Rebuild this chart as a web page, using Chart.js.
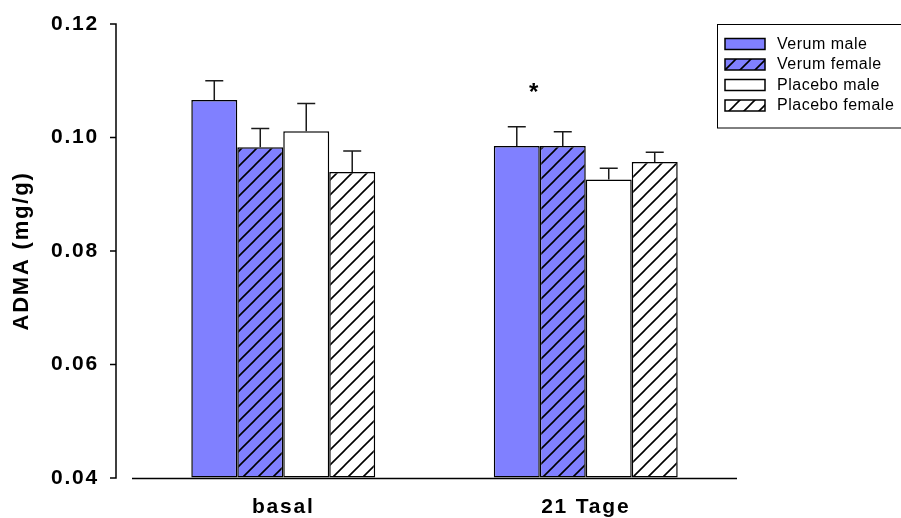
<!DOCTYPE html>
<html>
<head>
<meta charset="utf-8">
<script src="https://cdn.jsdelivr.net/npm/chart.js@4/dist/chart.umd.min.js"></script>
<style>
  html, body { margin: 0; padding: 0; background: #fff; }
  #wrap { position: relative; width: 901px; height: 518px; }
</style>
</head>
<body>
<div id="wrap"><canvas id="c"></canvas></div>
<script>
// ADMA concentration by group and time point (mean, upper SEM)
const categories = ['basal', '21 Tage'];
const seriesNames = ['Verum male', 'Verum female', 'Placebo male', 'Placebo female'];
const verumMale = [0.1066, 0.0985];
const verumFemale = [0.0983, 0.0985];
const placeboMale = [0.1011, 0.0926];
const placeboFemale = [0.0939, 0.0957];
const verumMaleErr = [0.0034, 0.0034];
const verumFemaleErr = [0.0033, 0.0025];
const placeboMaleErr = [0.0049, 0.0020];
const placeboFemaleErr = [0.0037, 0.0017];
const verumMaleMarks = ['', '*'];
const yTicks = [0.04, 0.06, 0.08, 0.10, 0.12];

const FONT = '"Liberation Sans", Arial, Helvetica, sans-serif';
const BLUE = 'rgb(128,128,255)';

function hatch(bg) {
  const s = 15;
  const cv = document.createElement('canvas');
  cv.width = s; cv.height = s;
  const g = cv.getContext('2d');
  g.fillStyle = bg;
  g.fillRect(0, 0, s, s);
  g.strokeStyle = '#000';
  g.lineWidth = 1.6;
  g.beginPath();
  g.moveTo(-2, s + 2); g.lineTo(s + 2, -2);
  g.moveTo(-2, 2); g.lineTo(2, -2);
  g.moveTo(s - 2, s + 2); g.lineTo(s + 2, s - 2);
  g.stroke();
  return g.createPattern(cv, 'repeat');
}

const fills = [BLUE, hatch(BLUE), '#ffffff', hatch('#ffffff')];
const values = [verumMale, verumFemale, placeboMale, placeboFemale];
const errors = [verumMaleErr, verumFemaleErr, placeboMaleErr, placeboFemaleErr];

const datasets = seriesNames.map((name, i) => ({
  label: name,
  data: values[i],
  errUp: errors[i],
  backgroundColor: fills[i],
  borderColor: '#000',
  borderWidth: 1.5,
  borderSkipped: false,
  base: 0.04,
  categoryPercentage: 0.608,
  barPercentage: 1.0
}));

const decor = {
  id: 'decor',
  beforeDraw(chart) {
    // slightly wider text spacing for the axis labels
    chart.ctx.letterSpacing = '1.8px';
  },
  afterDatasetsDraw(chart) {
    const ctx = chart.ctx;
    const y = chart.scales.y;
    ctx.save();
    // upper error bars
    ctx.strokeStyle = '#1a1a1a';
    ctx.lineWidth = 1.5;
    chart.data.datasets.forEach((ds, di) => {
      const meta = chart.getDatasetMeta(di);
      meta.data.forEach((bar, j) => {
        const top = y.getPixelForValue(ds.data[j]);
        const cap = y.getPixelForValue(ds.data[j] + ds.errUp[j]);
        ctx.beginPath();
        ctx.moveTo(bar.x, top);
        ctx.lineTo(bar.x, cap);
        ctx.moveTo(bar.x - 9, cap);
        ctx.lineTo(bar.x + 9, cap);
        ctx.stroke();
      });
    });
    // significance marks above the Verum male bars
    const vm = chart.getDatasetMeta(0);
    ctx.fillStyle = '#000';
    ctx.letterSpacing = '0px';
    ctx.font = 'bold 24px ' + FONT;
    ctx.textAlign = 'center';
    ctx.textBaseline = 'alphabetic';
    verumMaleMarks.forEach((m, j) => {
      if (!m) return;
      const cap = y.getPixelForValue(verumMale[j] + verumMaleErr[j]);
      ctx.fillText(m, vm.data[j].x + 17, cap - 27);
    });
    ctx.restore();
  },
  afterDraw(chart) {
    const ctx = chart.ctx;
    const y = chart.scales.y;
    const x = chart.scales.x;
    const area = chart.chartArea;
    ctx.save();
    ctx.strokeStyle = '#000';
    ctx.lineWidth = 1.5;
    // y axis, offset to the left of the plotting area
    const ax = area.left - 16;
    ctx.beginPath();
    ctx.moveTo(ax, y.getPixelForValue(0.12));
    ctx.lineTo(ax, y.getPixelForValue(0.04));
    yTicks.forEach(v => {
      const py = y.getPixelForValue(v);
      ctx.moveTo(ax - 6, py);
      ctx.lineTo(ax + 0.75, py);
    });
    ctx.stroke();
    // x axis
    ctx.beginPath();
    ctx.moveTo(x.left, area.bottom + 0.5);
    ctx.lineTo(x.right, area.bottom + 0.5);
    ctx.stroke();

    // legend box
    const lx = 717.5, ly = 24.5;
    ctx.lineWidth = 1;
    ctx.strokeRect(lx, ly, 200, 103.5);
    ctx.letterSpacing = '0.5px';
    ctx.font = '16px ' + FONT;
    ctx.textAlign = 'left';
    ctx.textBaseline = 'middle';
    chart.data.datasets.forEach((ds, i) => {
      const ry = 38.5 + i * 20.5;
      ctx.fillStyle = ds.backgroundColor;
      ctx.fillRect(725, ry, 40, 11);
      ctx.lineWidth = 1.5;
      ctx.strokeRect(725, ry, 40, 11);
      ctx.fillStyle = '#000';
      ctx.fillText(ds.label, 777, ry + 6);
    });
    ctx.restore();
  }
};

new Chart(document.getElementById('c'), {
  type: 'bar',
  data: { labels: categories, datasets },
  options: {
    responsive: true,
    maintainAspectRatio: false,
    animation: false,
    devicePixelRatio: 1,
    layout: { padding: { left: 0, right: 164, top: 24, bottom: 0 } },
    plugins: { legend: { display: false }, tooltip: { enabled: false } },
    scales: {
      x: {
        grid: { display: false, drawTicks: false },
        border: { display: false },
        ticks: { color: '#000', font: { family: FONT, size: 21, weight: 'bold' }, padding: 17 },
        afterFit(s) { s.height = 40; s.paddingLeft = 0; s.paddingRight = 0; }
      },
      y: {
        min: 0.04,
        max: 0.12,
        grid: { display: true, drawOnChartArea: false, drawTicks: false },
        border: { display: false },
        afterBuildTicks(s) { s.ticks = yTicks.map(v => ({ value: v })); },
        ticks: {
          color: '#000',
          font: { family: FONT, size: 21, weight: 'bold' },
          padding: 33,
          callback: v => Number(v).toFixed(2)
        },
        title: {
          display: true,
          text: 'ADMA (mg/g)',
          color: '#000',
          font: { family: FONT, size: 22, weight: 'bold' },
          padding: { top: 9, bottom: 0 }
        },
        afterFit(s) { s.width = 132; s.paddingTop = 0; s.paddingBottom = 0; }
      }
    }
  },
  plugins: [decor]
});
</script>
</body>
</html>
